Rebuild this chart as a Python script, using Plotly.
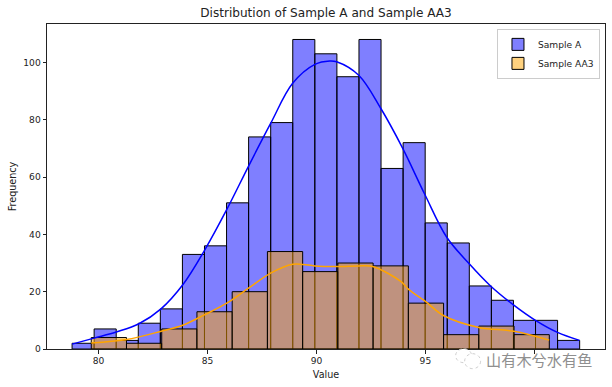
import plotly.graph_objects as go

a_start = 78.79
a_width = 1.0125
a_counts = [2, 7, 3, 9, 14, 33, 36, 51, 74, 79, 108, 103, 95, 108, 63, 72, 44, 37, 22, 17, 10, 10, 3]
b_start = 79.67
b_width = 1.6165
b_counts = [4, 2, 7, 13, 20, 34, 27, 30, 29, 16, 5, 8, 5]

a_kde_x = [78.79, 79.80, 80.85, 81.86, 82.87, 83.87, 84.88, 85.89, 86.90, 87.90, 88.91, 89.93, 90.61, 90.93,
           91.94, 92.95, 93.96, 94.97, 95.98, 96.98, 97.99, 99.04, 100.05, 101.06, 102.07]
a_kde_y = [1.7, 3.8, 6, 8.8, 14, 22.4, 34.6, 48.7, 64, 78.7, 92.7, 99.3, 100.5, 100.2,
           95.5, 84, 70, 54, 39, 30, 22, 15.4, 10, 5.8, 3]
b_kde_x = [79.67, 81.28, 82.88, 83.87, 84.88, 85.89, 86.90, 87.90, 88.92, 89.39, 89.93, 90.98, 91.94, 92.58, 93.87,
           94.22, 95.0, 95.85, 97.46, 99.06, 100.68]
b_kde_y = [2.1, 3.3, 6.2, 8.3, 12, 16, 21.3, 26.5, 29.6, 29.5, 29, 28.8, 29, 28.8, 23.6,
           20.9, 16.6, 11.6, 7.5, 6.2, 3.1]

x_ticks = [80, 85, 90, 95, 100]
x_labels = ["80", "85", "90", "95", ""]
y_ticks = [0, 20, 40, 60, 80, 100]
font = "DejaVu Sans"
ink = "#222"

def centers(start, width, counts):
    return [start + width * (i + 0.5) for i in range(len(counts))]

fig = go.Figure()
fig.add_bar(x=centers(a_start, a_width, a_counts), y=a_counts, width=a_width, name="Sample A",
            marker=dict(color="rgba(0,0,255,0.5)", line=dict(color="black", width=1)))
fig.add_bar(x=centers(b_start, b_width, b_counts), y=b_counts, width=b_width, name="Sample AA3",
            marker=dict(color="rgba(255,165,0,0.5)", line=dict(color="black", width=1)))
fig.add_scatter(x=a_kde_x, y=a_kde_y, mode="lines", line=dict(color="blue", width=1.5, shape="spline"), showlegend=False)
fig.add_scatter(x=b_kde_x, y=b_kde_y, mode="lines", line=dict(color="orange", width=1.5, shape="spline"), showlegend=False)

axis = dict(showgrid=False, zeroline=False, showline=True, mirror=True, linecolor=ink, linewidth=1, automargin=False,
            ticks="outside", ticklen=3.5, tickwidth=1, tickcolor=ink, tickfont=dict(size=9.1, family=font, color=ink))
fig.update_xaxes(range=[77.64, 103.24], tickvals=x_ticks, ticktext=x_labels,
                 title=dict(text="Value", font=dict(size=9.6, family=font, color=ink), standoff=5), **axis)
fig.update_yaxes(range=[0, 113.4], tickvals=y_ticks,
                 title=dict(text="Frequency", font=dict(size=9.6, family=font, color=ink), standoff=4), **axis)

# Watermark icon (two speech-bubble outlines), in paper coordinates.
W, H = 612 - 47 - 6.5, 387 - 23.7 - 37.7
def px(x0, y0, x1, y1):
    return dict(x0=(x0 - 47) / W, x1=(x1 - 47) / W, y0=(349.3 - y0) / H, y1=(349.3 - y1) / H)
icon = [dict(type="circle", xref="paper", yref="paper", layer="above", fillcolor="white",
             line=dict(color="#cfcfcf", width=1, dash="dot"), **px(*b))
        for b in [(456, 349, 472, 363), (465, 354, 481, 369)]]

fig.update_layout(
    width=612, height=387, barmode="overlay", plot_bgcolor="white", paper_bgcolor="white",
    margin=dict(l=47, r=6.5, t=23.7, b=37.7, pad=0),
    title=dict(text="Distribution of Sample A and Sample AA3", font=dict(size=12.1, family=font, color=ink),
               x=0.5, xref="paper", xanchor="center", y=1, yref="paper", yanchor="bottom", pad=dict(b=7)),
    legend=dict(x=0.991, y=0.985, xanchor="right", yanchor="top", bgcolor="rgba(255,255,255,0.8)", bordercolor="#ccc", borderwidth=1,
                font=dict(size=9.1, family=font, color=ink), traceorder="normal", tracegroupgap=0, itemwidth=30),
    shapes=icon,
    annotations=[dict(text="山有木兮水有鱼", xref="paper", yref="paper", x=1.0, y=0, xanchor="right", yanchor="top", yshift=3, xshift=-11,
                      showarrow=False, font=dict(size=15.2, family="Noto Sans CJK SC", color="#8f8f8f"))],
)
fig.write_html("out.html", post_script="document.body.style.margin='0';", config={"displayModeBar": False})
